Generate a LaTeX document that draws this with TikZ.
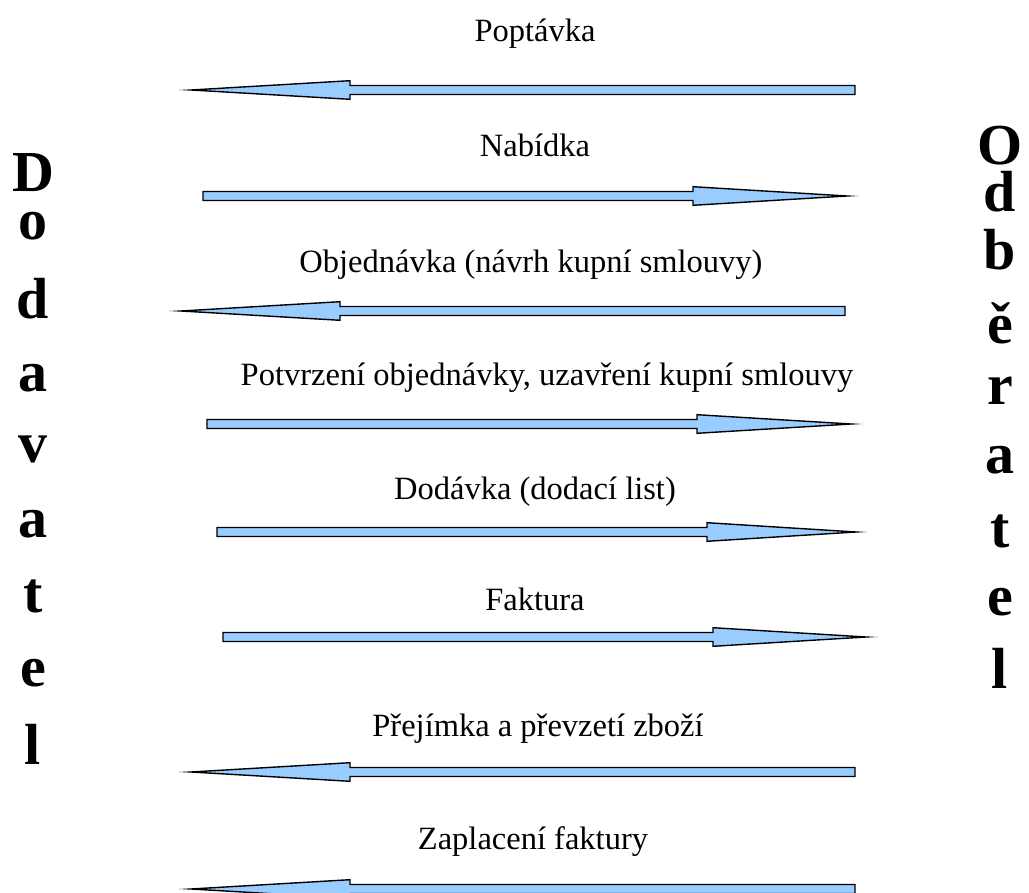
\documentclass[tikz,border=0pt]{standalone}
\usepackage{fontspec}
\setmainfont{Liberation Serif}
\definecolor{arrowfill}{HTML}{99CCFF}
\tikzset{
  blockarrow/.style={draw=black, fill=arrowfill, line width=1.4pt, line join=miter, miter limit=30},
  msg/.style={font=\fontsize{32.5}{32.5}\selectfont, inner sep=0pt, anchor=base},
  party/.style={font=\fontsize{58}{58}\selectfont\bfseries, inner sep=0pt, anchor=base},
}
% #1 tail x, #2 tip x, #3 centre y, #4 x of the head base
\newcommand\blockarrowat[4]{%
  \filldraw[blockarrow] (#1,#3-4.5) -- (#4,#3-4.5) -- (#4,#3-9.3) -- (#2,#3)
    -- (#4,#3+9.3) -- (#4,#3+4.5) -- (#1,#3+4.5) -- cycle;}
\begin{document}
\begin{tikzpicture}[x=1pt,y=-1pt]
\useasboundingbox (0,0) rectangle (1029,893);
\clip (0,0) rectangle (1029,893);

% messages between the two parties
\node[msg] (m1) at (535,42) {Poptávka};
\blockarrowat{855}{191}{90}{350}
\node[msg] (m2) at (535,157) {Nabídka};
\blockarrowat{203}{847}{196}{693}
\node[msg] (m3) at (531,273) {Objednávka (návrh kupní smlouvy)};
\blockarrowat{845}{181}{311}{340}
\node[msg] (m4) at (547,386) {Potvrzení objednávky, uzavření kupní smlouvy};
\blockarrowat{207}{851}{424}{697}
\node[msg] (m5) at (535,500) {Dodávka (dodací list)};
\blockarrowat{217}{856}{532}{707}
\node[msg] (m6) at (535,610) {Faktura};
\blockarrowat{223}{866}{637}{713}
\node[msg] (m7) at (538,736) {Přejímka a převzetí zboží};
\blockarrowat{855}{191}{772}{350}
\node[msg] (m8) at (533,849) {Zaplacení faktury};
\blockarrowat{855}{191}{889}{350}

% supplier, written downwards on the left
\node[party] (d1) at (33,192) {D};
\node[party] (d2) at (33,240) {o};
\node[party] (d3) at (33,319) {d};
\node[party] (d4) at (33,392) {a};
\node[party] (d5) at (33,462) {v};
\node[party] (d6) at (33,537) {a};
\node[party] (d7) at (33,612) {t};
\node[party] (d8) at (33,686) {e};
\node[party] (d9) at (33,764) {l};

% customer, written downwards on the right
\node[party] (o1) at (1000,165) {O};
\node[party] (o2) at (1000,212) {d};
\node[party] (o3) at (1000,270) {b};
\node[party] (o4) at (1000,344) {ě};
\node[party] (o5) at (1000,405) {r};
\node[party] (o6) at (1000,474) {a};
\node[party] (o7) at (1000,547) {t};
\node[party] (o8) at (1000,615) {e};
\node[party] (o9) at (1000,688) {l};
\end{tikzpicture}
\end{document}
